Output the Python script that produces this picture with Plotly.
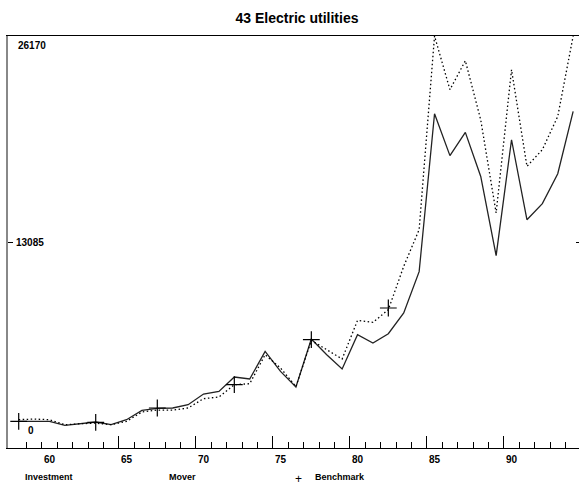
import plotly.graph_objects as go

years = list(range(58, 95))
investment = [1690, 1690, 1690, 1436, 1543, 1650, 1480, 1798, 2388, 2520,
              2541, 2750, 3430, 3597, 4510, 4383, 6136, 4866, 3875, 6924,
              5926, 5018, 7197, 6670, 7260, 8575, 11200, 21230, 18570, 20050,
              17250, 12215, 19580, 14500, 15520, 17420, 21380]
mover = [1798, 1840, 1798, 1480, 1543, 1580, 1480, 1690, 2287, 2410,
         2410, 2541, 3132, 3240, 4021, 4084, 5926, 5082, 3900, 6835,
         6244, 5653, 8105, 7978, 8785, 11540, 13870, 26170, 22760, 24600,
         20840, 14930, 24030, 17890, 18950, 21060, 26170]
bench_years = [58, 63, 67, 72, 77, 82]
benchmark = [1690, 1626, 2541, 4021, 6880, 8893]

y_max = 26170
y_mid = 13085
x_labels = [60, 65, 70, 75, 80, 85, 90]
major_ticks = [64.5, 69.5, 74.5, 79.5, 84.5, 89.5]
minor_ticks = [y + 0.5 for y in range(58, 94) if y + 0.5 not in major_ticks]

FONT = "Liberation Sans"
W, H = 579, 485
L, R, T, B = 8, 0, 36, 37

fig = go.Figure()
fig.add_trace(go.Scatter(x=years, y=investment, mode="lines", name="Investment",
                         line=dict(color="#222222", width=1.3)))
fig.add_trace(go.Scatter(x=years, y=mover, mode="lines", name="Mover",
                         line=dict(color="black", width=1.3, dash="1.5px,2.5px")))
fig.add_trace(go.Scatter(x=bench_years, y=benchmark, mode="markers", name="Benchmark",
                         marker=dict(symbol="cross-thin", size=12,
                                     line=dict(color="black", width=1.2))))
# helper traces so overlay axes render
fig.add_trace(go.Scatter(x=[60], y=[0], xaxis="x2", yaxis="y", mode="markers",
                         marker=dict(opacity=0), hoverinfo="skip"))
fig.add_trace(go.Scatter(x=[60], y=[0], xaxis="x", yaxis="y2", mode="markers",
                         marker=dict(opacity=0), hoverinfo="skip"))

xr = [57.305, 94.38]
fig.update_layout(
    width=W, height=H,
    margin=dict(l=L, r=R, t=T, b=B),
    paper_bgcolor="white", plot_bgcolor="white",
    showlegend=False,
    font=dict(family=FONT, color="black"),
    title=dict(text="<b>43 Electric utilities</b>", x=297/W, xanchor="center",
               y=1 - 18/H, yanchor="middle", yref="container",
               font=dict(size=14, family=FONT, color="black")),
    xaxis=dict(range=xr, showgrid=False, zeroline=False,
               showline=True, linecolor="black", linewidth=1.2, mirror=True,
               ticks="inside", tickvals=major_ticks, ticklen=12, tickcolor="black",
               tickwidth=1, showticklabels=False,
               minor=dict(tickvals=minor_ticks, ticks="inside", ticklen=6,
                          tickcolor="black", tickwidth=1, showgrid=False)),
    xaxis2=dict(range=xr, overlaying="x", anchor="y", side="bottom",
                showgrid=False, zeroline=False, showline=False, ticks="",
                tickvals=x_labels, ticktext=[str(v) for v in x_labels],
                tickfont=dict(size=10, family=FONT, weight="bold"),
                ticklabelstandoff=4),
    yaxis=dict(range=[0, y_max], showgrid=False, zeroline=False,
               showline=True, linecolor="#888888", linewidth=1.5,
               ticks="inside", tickvals=[y_mid], ticklen=5, tickcolor="black",
               showticklabels=False),
    yaxis2=dict(range=[0, y_max], overlaying="y", side="right", anchor="x",
                showgrid=False, zeroline=False, showline=False,
                ticks="inside", tickvals=[y_mid], ticklen=3, tickcolor="black",
                showticklabels=False),
)

ann_font = dict(size=10, family=FONT, color="black", weight="bold")
fig.add_annotation(x=0, xref="paper", y=y_max, yref="y", text="26170",
                   xanchor="left", yanchor="top", xshift=8, yshift=-2,
                   showarrow=False, font=ann_font)
fig.add_annotation(x=0, xref="paper", y=y_mid, yref="y", text="13085",
                   xanchor="left", yanchor="middle", xshift=6,
                   showarrow=False, font=ann_font)
fig.add_annotation(x=0, xref="paper", y=0, yref="y", text="0",
                   xanchor="left", yanchor="middle", xshift=18, yshift=18,
                   showarrow=False, font=ann_font)


def px_x(px):
    return (px - L) / (W - L - R)


leg_font = dict(size=9, family=FONT, color="black", weight="bold")
legend_items = [("Investment", 23), ("Mover", 167), ("Benchmark", 313)]
for txt, px in legend_items:
    fig.add_annotation(x=px_x(px), xref="paper", y=0, yref="paper", text=txt,
                       showarrow=False, font=leg_font, xanchor="left",
                       yanchor="middle", yshift=-(477 - (H - B)))
fig.add_annotation(x=px_x(298), xref="paper", y=0, yref="paper", text="+",
                   showarrow=False, font=dict(size=12, family=FONT, color="black"),
                   xanchor="center", yanchor="middle", yshift=-(479 - (H - B)))

fig.write_html("out.html")
